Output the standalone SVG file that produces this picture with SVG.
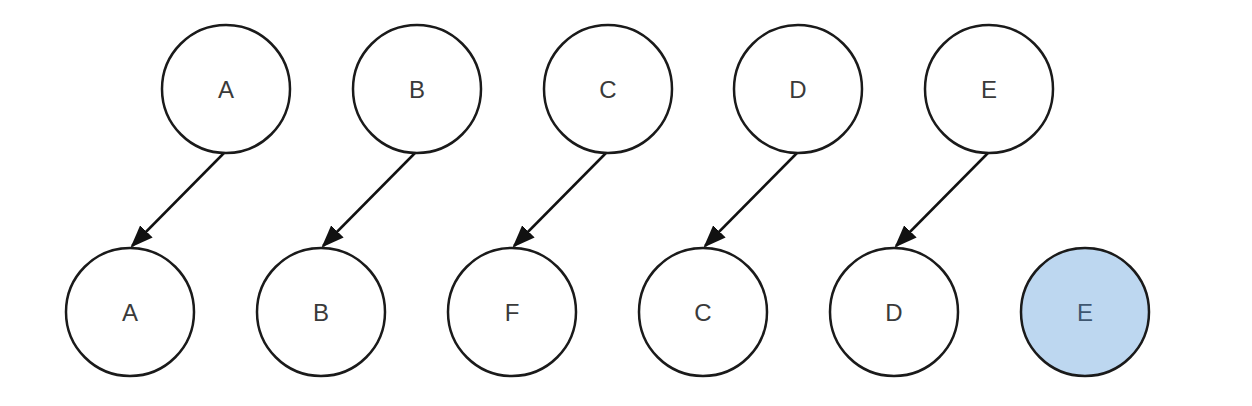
<svg xmlns="http://www.w3.org/2000/svg" width="1252" height="406" viewBox="0 0 1252 406">
<style>
.n circle{fill:#ffffff;stroke:#1a1a1a;stroke-width:2.5}
.n text{font-family:"Liberation Sans",Arial,sans-serif;font-size:24px;fill:#3a3a3a;text-anchor:middle;dominant-baseline:central}
.n.hl circle{fill:#bdd7f0}
.n.hl text{fill:#3e5670}
.e line{stroke:#111111;stroke-width:2.5;marker-end:url(#ah)}
</style>
<defs>
<marker id="ah" markerWidth="9" markerHeight="7" refX="8.2" refY="3.5" orient="auto" markerUnits="strokeWidth">
<path d="M0,0 L9,3.5 L0,7 Z" fill="#111111"/>
</marker>
</defs>
<rect width="1252" height="406" fill="#ffffff"/>
<g id="edges" class="e">
<line x1="224" y1="153" x2="132" y2="246"/>
<line x1="415" y1="153" x2="323" y2="246"/>
<line x1="606" y1="153" x2="514" y2="246"/>
<line x1="797" y1="153" x2="705" y2="246"/>
<line x1="988" y1="153" x2="896" y2="246"/>
</g>
<g id="top-A" class="n"><circle cx="226" cy="89" r="64"/><text x="226" y="89">A</text></g>
<g id="top-B" class="n"><circle cx="417" cy="89" r="64"/><text x="417" y="89">B</text></g>
<g id="top-C" class="n"><circle cx="608" cy="89" r="64"/><text x="608" y="89">C</text></g>
<g id="top-D" class="n"><circle cx="798" cy="89" r="64"/><text x="798" y="89">D</text></g>
<g id="top-E" class="n"><circle cx="989" cy="89" r="64"/><text x="989" y="89">E</text></g>
<g id="bot-A" class="n"><circle cx="130" cy="312" r="64"/><text x="130" y="312">A</text></g>
<g id="bot-B" class="n"><circle cx="321" cy="312" r="64"/><text x="321" y="312">B</text></g>
<g id="bot-F" class="n"><circle cx="512" cy="312" r="64"/><text x="512" y="312">F</text></g>
<g id="bot-C" class="n"><circle cx="703" cy="312" r="64"/><text x="703" y="312">C</text></g>
<g id="bot-D" class="n"><circle cx="894" cy="312" r="64"/><text x="894" y="312">D</text></g>
<g id="bot-E" class="n hl"><circle cx="1085" cy="312" r="64"/><text x="1085" y="312">E</text></g>
</svg>
